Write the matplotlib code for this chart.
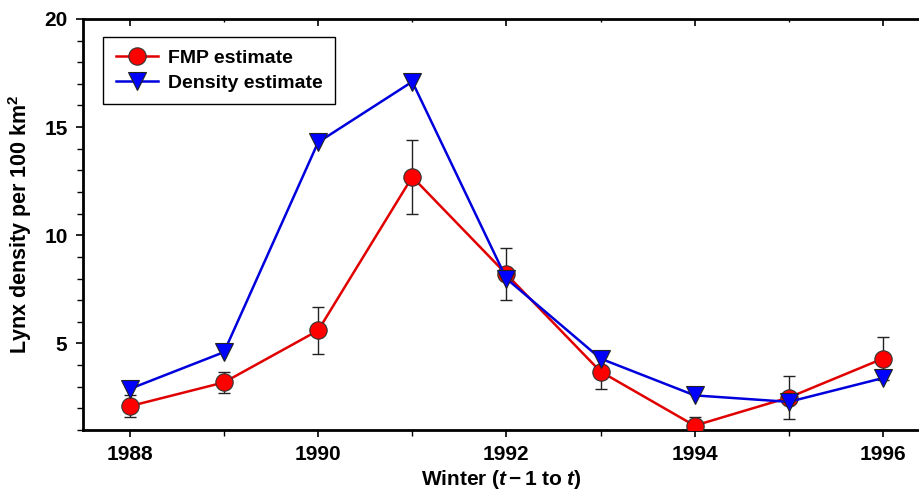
import matplotlib
matplotlib.use("Agg")
import matplotlib.pyplot as plt
from matplotlib.ticker import MultipleLocator

plt.rcParams['font.family'] = ['Liberation Sans', 'DejaVu Sans']
plt.rcParams['font.weight'] = 'bold'
plt.rcParams['mathtext.fontset'] = 'custom'
plt.rcParams['mathtext.rm'] = 'Liberation Sans:bold'
plt.rcParams['mathtext.bf'] = 'Liberation Sans:bold'
plt.rcParams['mathtext.it'] = 'Liberation Sans:italic:bold'

# Winters and lynx density estimates (per 100 km^2)
years = [1988, 1989, 1990, 1991, 1992, 1993, 1994, 1995, 1996]
fmp_estimate = [2.1, 3.2, 5.6, 12.7, 8.2, 3.7, 1.2, 2.5, 4.3]
fmp_error = [0.5, 0.5, 1.1, 1.7, 1.2, 0.8, 0.4, 1.0, 1.0]
density_estimate = [2.9, 4.6, 14.3, 17.1, 8.0, 4.3, 2.6, 2.3, 3.4]

fig = plt.figure(figsize=(9.2, 4.94), dpi=100)
ax = fig.add_axes([0.090, 0.1296, 0.910, 0.832])

ax.errorbar(years, fmp_estimate, yerr=fmp_error, fmt='none', ecolor='#222222',
            elinewidth=1.0, capsize=4.5, capthick=1.0, zorder=2)
ax.plot(years, fmp_estimate, color='#e00000', lw=1.8, marker='o', markersize=12.5,
        markerfacecolor='#ff0000', markeredgecolor='#333333', markeredgewidth=0.8,
        label='FMP estimate', zorder=3)
ax.plot(years, density_estimate, color='#0000dd', lw=1.8, marker='v', markersize=13,
        markerfacecolor='#0000ff', markeredgecolor='#222222', markeredgewidth=0.8,
        label='Density estimate', zorder=4)

ax.set_xlim(1987.5, 1996.394)
ax.set_ylim(1, 20)

ax.xaxis.set_major_locator(MultipleLocator(2))
ax.xaxis.set_minor_locator(MultipleLocator(1))
ax.yaxis.set_major_locator(MultipleLocator(5))
ax.yaxis.set_minor_locator(MultipleLocator(1))

for side in ['left', 'bottom', 'top']:
    ax.spines[side].set_linewidth(2.0)
ax.spines['right'].set_visible(False)

ax.tick_params(axis='both', which='major', direction='out', length=5, width=1.2,
               labelsize=15, pad=6)
ax.tick_params(axis='both', which='minor', direction='out', length=4, width=1.0)
ax.tick_params(axis='x', which='both', top=True)
ax.tick_params(axis='y', which='both', right=False)
# inward ticks along the top edge
for t in ax.xaxis.get_major_ticks():
    t.tick2line.set_marker(3)
    t.tick2line.set_markersize(5)
for t in ax.xaxis.get_minor_ticks():
    t.tick2line.set_marker(3)
    t.tick2line.set_markersize(2)

for lbl in ax.get_xticklabels() + ax.get_yticklabels():
    lbl.set_fontweight('bold')

ax.set_xlabel(r'Winter ($\mathit{t}\,{-}\,$1 to $\mathit{t}$)', fontsize=15,
              fontweight='bold', labelpad=3)
ax.set_ylabel(r'Lynx density per 100 km$^{2}$', fontsize=15.5, fontweight='bold',
              labelpad=7)

leg = ax.legend(loc='upper left', bbox_to_anchor=(0.024, 0.956), borderaxespad=0,
                frameon=True, fancybox=False, edgecolor='black', framealpha=1,
                handlelength=2.2, borderpad=0.65, labelspacing=0.35,
                handletextpad=0.5, prop={'weight': 'bold', 'size': 14})
leg.get_frame().set_linewidth(1.0)

fig.savefig('out.png', dpi=100)
